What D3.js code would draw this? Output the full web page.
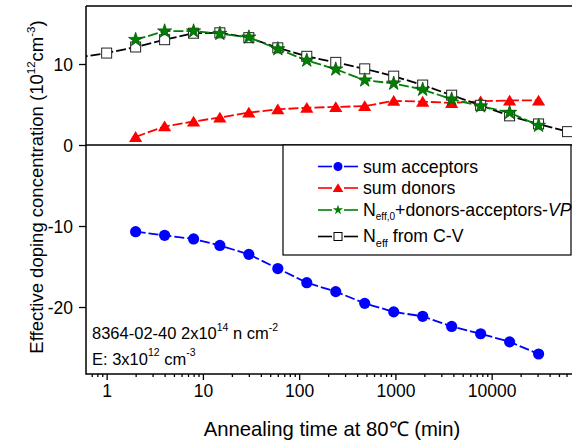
<!DOCTYPE html>
<html><head><meta charset="utf-8">
<script src="https://cdn.jsdelivr.net/npm/d3@7"></script>
<style>
body{margin:0;background:#fff}
svg{display:block}
text{font-family:"Liberation Sans",Arial,Helvetica,sans-serif;fill:#000}
</style>
</head><body>
<svg id="chart" width="572" height="443"></svg>
<script>
// ---- data ----
const timesFit = [2,4,8,15,30,60,120,240,480,960,1920,3840,7680,15360,30720];
const sumAcceptors = [-10.7,-11.15,-11.6,-12.4,-13.5,-15.25,-17.0,-18.1,-19.55,-20.6,-21.15,-22.4,-23.3,-24.3,-25.8];
const sumDonors = [1.0,2.3,2.9,3.4,4.0,4.4,4.6,4.7,4.8,5.45,5.35,5.2,5.4,5.5,5.5];
const neffCalc = [13.0,14.05,14.05,13.75,13.3,11.85,10.45,9.35,8.0,7.6,6.85,5.65,4.8,4.0,2.4];
const timesCV = [0.5,1,2,4,8,15,30,60,120,240,480,960,1920,3840,7680,15360,30720,61440];
const neffCV = [10.8,11.35,12.1,13.0,13.8,13.85,13.25,12.0,10.95,10.2,9.4,8.5,7.4,6.15,4.9,3.6,2.6,1.65];
const xTickValues = [1,10,100,1000,10000];
const xTickLabels = ["1","10","100","1000","10000"];
const yTickValues = [-20,-10,0,10];
const yTickLabels = ["-20","-10","0","10"];

// ---- layout ----
const L = 86, R = 573, T = 6, B = 374;
const svg = d3.select("#chart");
const x = d3.scaleLog().domain([0.61, 70000]).range([L, R]);
const y = d3.scaleLinear().domain([-28.27, 17.16]).range([B, T]);

svg.append("defs").append("clipPath").attr("id","clip")
  .append("rect").attr("x",L).attr("y",T).attr("width",R-L).attr("height",B-T);

// zero line
svg.append("line").attr("x1",L).attr("x2",R).attr("y1",y(0)).attr("y2",y(0))
  .attr("stroke","#000").attr("stroke-width",1.3);

// ---- axes ----
const minor = [];
for (let d = 0.1; d <= 100000; d *= 10) for (let k = 2; k <= 9; k++) {
  const v = d * k; if (v >= 0.61 && v <= 70000) minor.push(v);
}
const gxMinor = svg.append("g").attr("transform",`translate(0,${B})`)
  .call(d3.axisBottom(x).tickValues(minor).tickSize(3).tickFormat("").tickSizeOuter(0));
const gx = svg.append("g").attr("transform",`translate(0,${B})`)
  .call(d3.axisBottom(x).tickValues(xTickValues).tickSize(6).tickSizeOuter(0).tickPadding(5)
    .tickFormat((d,i)=>xTickLabels[i]));
const gy = svg.append("g").attr("transform",`translate(${L},0)`)
  .call(d3.axisLeft(y).tickValues(yTickValues).tickSize(7).tickSizeOuter(0).tickPadding(6)
    .tickFormat((d,i)=>yTickLabels[i]));
[gx,gy,gxMinor].forEach(g=>{
  g.select(".domain").remove();
  g.selectAll(".tick line").attr("stroke","#000").attr("stroke-width",1.3);
  g.selectAll(".tick text").attr("font-size",17.5).attr("fill","#000");
});
gy.selectAll(".tick text").attr("dy","0.35em");
// frame (left, bottom, top)
svg.append("path").attr("d",`M${L},${T}H${R}M${L},${T}V${B}H${R}`)
  .attr("fill","none").attr("stroke","#000").attr("stroke-width",1.5);

// ---- series ----
const plot = svg.append("g").attr("clip-path","url(#clip)");
const line = d3.line().x(d=>x(d[0])).y(d=>y(d[1]));
function series(xs, ys, color){
  plot.append("path").datum(xs.map((v,i)=>[v,ys[i]]))
    .attr("d",line).attr("fill","none").attr("stroke",color)
    .attr("stroke-width",1.8).attr("stroke-dasharray","10,3");
}
const triPath = "M0,-5.8L6.6,5L-6.6,5Z";
const star = d3.symbol().type(d3.symbolStar).size(62)();
function drawMarker(g, kind){
  if (kind==="circle") g.append("circle").attr("r",5.6).attr("fill","#0000ff");
  else if (kind==="tri") g.append("path").attr("d",triPath).attr("fill","#ff0000");
  else if (kind==="star") g.append("path").attr("d",star).attr("fill","#008000").attr("stroke","#005a00").attr("stroke-width",0.8);
  else if (kind==="sq") g.append("rect").attr("x",-5).attr("y",-5).attr("width",10).attr("height",10)
    .attr("fill","#fff").attr("stroke","#222").attr("stroke-width",1);
}
function markers(xs, ys, kind){
  xs.forEach((v,i)=>{
    const g = plot.append("g").attr("transform",`translate(${x(v)},${y(ys[i])})`);
    drawMarker(g, kind);
  });
}
series(timesFit, sumAcceptors, "#0000ff"); markers(timesFit, sumAcceptors, "circle");
series(timesFit, sumDonors, "#ff0000"); markers(timesFit, sumDonors, "tri");
series(timesCV, neffCV, "#000"); markers(timesCV, neffCV, "sq");
series(timesFit, neffCalc, "#008000"); markers(timesFit, neffCalc, "star");

// ---- legend ----
const lg = svg.append("g");
lg.append("rect").attr("x",283).attr("y",145).attr("width",288).attr("height",110)
  .attr("fill","#fff").attr("stroke","#000").attr("stroke-width",1.2);
const legendRows = [
  {kind:"circle", color:"#0000ff", my:166.5},
  {kind:"tri", color:"#ff0000", my:188},
  {kind:"star", color:"#008000", my:210},
  {kind:"sq", color:"#000", my:236.5}
];
legendRows.forEach(r=>{
  lg.append("line").attr("x1",318).attr("x2",332).attr("y1",r.my).attr("y2",r.my).attr("stroke",r.color).attr("stroke-width",1.6);
  lg.append("line").attr("x1",344).attr("x2",358).attr("y1",r.my).attr("y2",r.my).attr("stroke",r.color).attr("stroke-width",1.6);
  const g = lg.append("g").attr("transform",`translate(338,${r.my})`);
  if (r.kind==="circle") g.append("circle").attr("r",4.5).attr("fill","#0000ff");
  else if (r.kind==="tri") g.append("path").attr("d","M0,-4.8L5.3,4L-5.3,4Z").attr("fill","#ff0000");
  else if (r.kind==="star") g.append("path").attr("d",d3.symbol().type(d3.symbolStar).size(32)()).attr("fill","#008000");
  else g.append("rect").attr("x",-4).attr("y",-4).attr("width",8).attr("height",8).attr("fill","#fff").attr("stroke","#000").attr("stroke-width",1);
});
const fs = 17.7;
lg.append("text").attr("x",363).attr("y",172.5).attr("font-size",fs).text("sum acceptors");
lg.append("text").attr("x",363).attr("y",194).attr("font-size",fs).text("sum donors");
const t3 = lg.append("text").attr("x",363).attr("y",216).attr("font-size",fs);
t3.append("tspan").text("N");
t3.append("tspan").attr("font-size",10).attr("dy",4).text("eff,0");
t3.append("tspan").attr("dy",-4).text("+donors-acceptors-");
t3.append("tspan").attr("font-style","italic").text("VP");
const t4 = lg.append("text").attr("x",363).attr("y",242).attr("font-size",fs);
t4.append("tspan").text("N");
t4.append("tspan").attr("font-size",11).attr("dy",4.5).text("eff");
t4.append("tspan").attr("dy",-4.5).text(" from C-V");

// ---- annotation ----
const afs = 16.5, asup = 10.5;
const a1 = svg.append("text").attr("x",92).attr("y",339).attr("font-size",afs);
a1.append("tspan").text("8364-02-40 2x10");
a1.append("tspan").attr("font-size",asup).attr("dy",-8.5).text("14");
a1.append("tspan").attr("dy",8.5).text(" n cm");
a1.append("tspan").attr("font-size",asup).attr("dy",-8.5).text("-2");
const a2 = svg.append("text").attr("x",92).attr("y",364.5).attr("font-size",afs);
a2.append("tspan").text("E: 3x10");
a2.append("tspan").attr("font-size",asup).attr("dy",-8.5).text("12");
a2.append("tspan").attr("dy",8.5).text(" cm");
a2.append("tspan").attr("font-size",asup).attr("dy",-8.5).text("-3");

// ---- axis titles ----
svg.append("text").attr("x",332).attr("y",435.5).attr("text-anchor","middle").attr("font-size",20.3)
  .text("Annealing time at 80℃ (min)");
const yt = svg.append("text").attr("transform","translate(43,187) rotate(-90)")
  .attr("text-anchor","middle").attr("font-size",18.5);
yt.append("tspan").text("Effective doping concentration (10");
yt.append("tspan").attr("font-size",11.5).attr("dy",-8).text("12");
yt.append("tspan").attr("dy",8).text("cm");
yt.append("tspan").attr("font-size",11.5).attr("dy",-8).text("-3");
yt.append("tspan").attr("dy",8).text(")");
</script>
</body></html>
